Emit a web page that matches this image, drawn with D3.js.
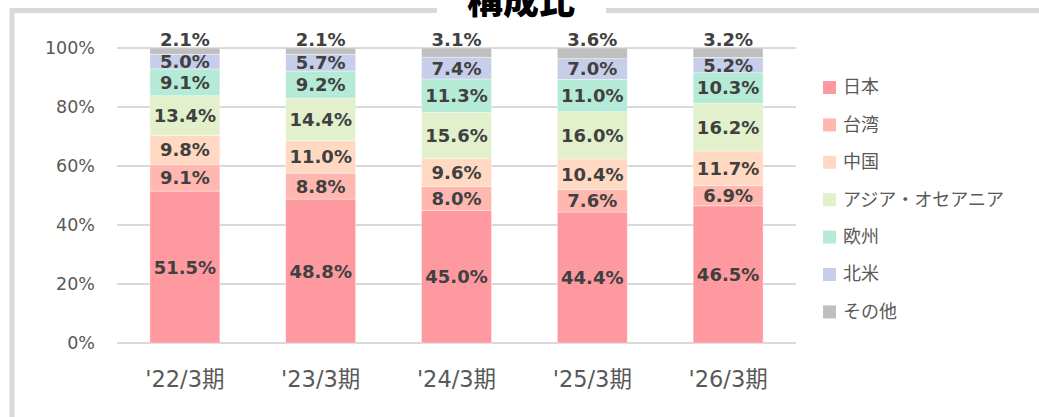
<!DOCTYPE html>
<html>
<head>
<meta charset="utf-8">
<script src="https://cdn.jsdelivr.net/npm/d3@7"></script>
<style>
  body { margin: 0; background: #fff; }
  svg { display: block; }
</style>
</head>
<body>
<svg id="chart" width="1039" height="417"></svg>
<script>
// categories and series
const periods = ["'22/3期", "'23/3期", "'24/3期", "'25/3期", "'26/3期"];
const regions = ["日本", "台湾", "中国", "アジア・オセアニア", "欧州", "北米", "その他"];
const colors = ["#FF99A0", "#FFB7B0", "#FFD9C2", "#E2F0CB", "#B5EAD6", "#C7CEEA", "#BFBFBF"];

const japan = [51.5, 48.8, 45.0, 44.4, 46.5];
const taiwan = [9.1, 8.8, 8.0, 7.6, 6.9];
const china = [9.8, 11.0, 9.6, 10.4, 11.7];
const asiaOceania = [13.4, 14.4, 15.6, 16.0, 16.2];
const europe = [9.1, 9.2, 11.3, 11.0, 10.3];
const northAmerica = [5.0, 5.7, 7.4, 7.0, 5.2];
const others = [2.1, 2.1, 3.1, 3.6, 3.2];

const yTicks = [0, 20, 40, 60, 80, 100];

const seriesValues = [japan, taiwan, china, asiaOceania, europe, northAmerica, others];

// table for d3.stack
const rows = periods.map((p, i) => {
  const r = { period: p };
  regions.forEach((reg, k) => { r[reg] = seriesValues[k][i]; });
  return r;
});

const svg = d3.select("#chart");
const font = "'DejaVu Sans', Verdana, 'Noto Sans CJK JP', sans-serif";

// frame
svg.append("line").attr("x1", 12).attr("x2", 12).attr("y1", 8).attr("y2", 417)
  .attr("stroke", "#D9D9D9").attr("stroke-width", 5);
svg.append("line").attr("x1", 10).attr("x2", 437).attr("y1", 10.5).attr("y2", 10.5)
  .attr("stroke", "#D9D9D9").attr("stroke-width", 5);
svg.append("line").attr("x1", 606).attr("x2", 1039).attr("y1", 10.5).attr("y2", 10.5)
  .attr("stroke", "#D9D9D9").attr("stroke-width", 5);

// title (cut off at top, as in the source)
svg.append("text")
  .attr("x", 521).attr("y", 14)
  .attr("text-anchor", "middle")
  .attr("font-family", "'Noto Sans CJK JP', sans-serif")
  .attr("font-weight", 900)
  .attr("font-size", 36)
  .attr("fill", "#000")
  .text("構成比");

const x = d3.scaleBand().domain(periods).range([117, 796]).paddingInner(0.485).paddingOuter(0.2425);
const y = d3.scaleLinear().domain([0, 100]).range([343, 48]);

// gridlines
svg.append("g")
  .selectAll("line")
  .data(yTicks)
  .join("line")
  .attr("x1", 117).attr("x2", 796)
  .attr("y1", d => y(d)).attr("y2", d => y(d))
  .attr("stroke", "#D9D9D9").attr("stroke-width", 2);

// y axis labels
const yAxis = svg.append("g")
  .attr("transform", "translate(95,0)")
  .call(d3.axisLeft(y).tickValues(yTicks).tickFormat(d => d + "%").tickSize(0).tickPadding(0));
yAxis.select(".domain").remove();
yAxis.selectAll("text")
  .attr("font-family", font).attr("font-size", 17.5).attr("fill", "#595959");

// x axis labels
const xAxis = svg.append("g")
  .attr("transform", "translate(0,371)")
  .call(d3.axisBottom(x).tickSize(0).tickPadding(0));
xAxis.select(".domain").remove();
xAxis.selectAll("text")
  .attr("font-family", font).attr("font-size", 22.5).attr("fill", "#595959");

// stacked bars
const stack = d3.stack().keys(regions);
const layers = stack(rows);

const g = svg.append("g");
layers.forEach((layer, k) => {
  g.append("g")
    .attr("fill", colors[k])
    .selectAll("rect")
    .data(layer)
    .join("rect")
    .attr("x", d => x(d.data.period))
    .attr("width", x.bandwidth())
    .attr("y", d => y(d[1]))
    .attr("height", d => y(d[0]) - y(d[1]))
    .attr("stroke", "#fff").attr("stroke-width", 0.6).attr("stroke-opacity", 0.6);
});

// data labels
layers.forEach((layer, k) => {
  const last = k === layers.length - 1;
  svg.append("g")
    .selectAll("text")
    .data(layer)
    .join("text")
    .attr("x", d => x(d.data.period) + x.bandwidth() / 2)
    .attr("y", d => last ? y(d[1]) - 2 : (y(d[0]) + y(d[1])) / 2)
    .attr("dy", last ? 0 : "0.36em")
    .attr("text-anchor", "middle")
    .attr("font-family", font)
    .attr("font-weight", "bold")
    .attr("font-size", 18)
    .attr("fill", "#404040")
    .text(d => (d[1] - d[0]).toFixed(1) + "%");
});

// legend
const legend = svg.append("g").attr("transform", "translate(823,0)");
regions.forEach((reg, k) => {
  const cy = 87 + k * 37.4;
  legend.append("rect")
    .attr("x", 0).attr("y", cy - 6).attr("width", 13).attr("height", 13)
    .attr("fill", colors[k]);
  legend.append("text")
    .attr("x", 20).attr("y", cy).attr("dy", "0.36em")
    .attr("font-family", "'Noto Sans CJK JP', sans-serif")
    .attr("font-size", 18).attr("fill", "#595959")
    .text(reg);
});
</script>
</body>
</html>
